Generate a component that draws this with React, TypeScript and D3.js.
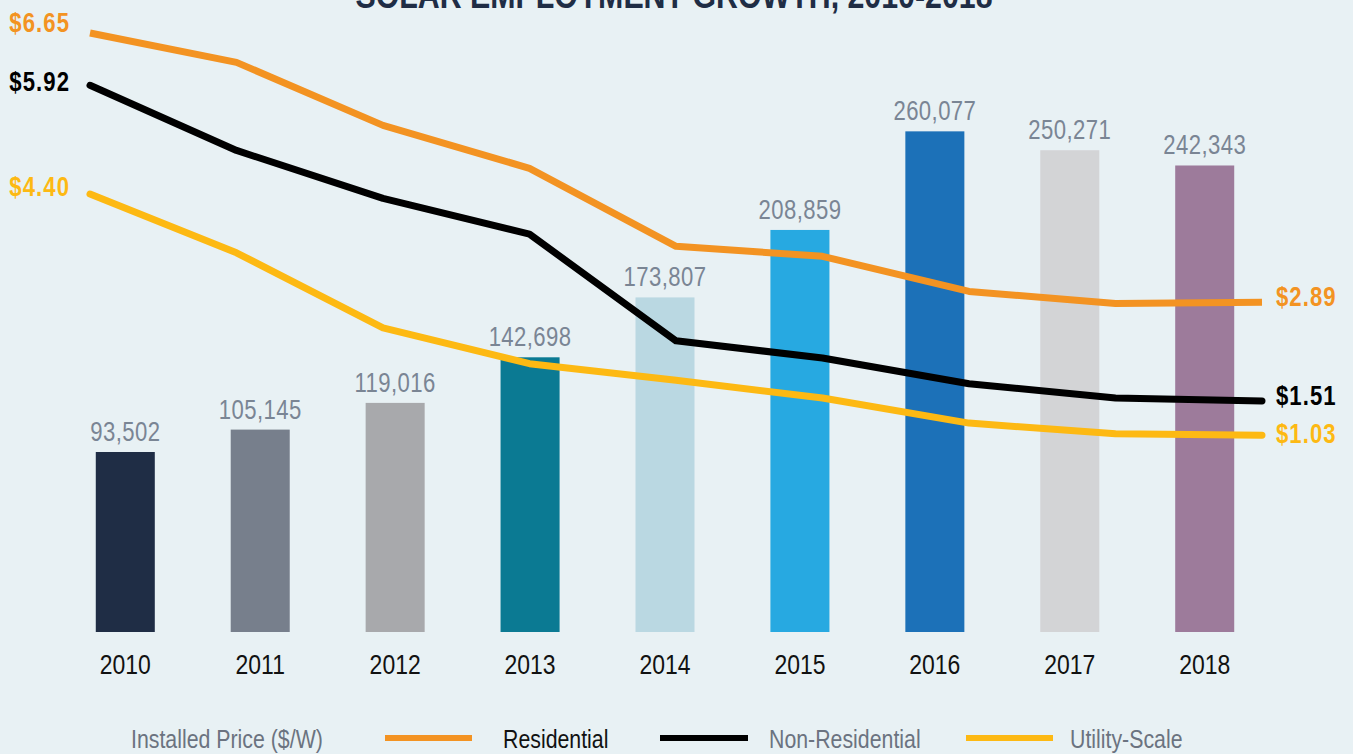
import { line, scaleBand, scaleLinear, scalePoint } from 'd3'
import type { ReactNode } from 'react'

const years = ['2010', '2011', '2012', '2013', '2014', '2015', '2016', '2017', '2018']
const jobs = [93502, 105145, 119016, 142698, 173807, 208859, 260077, 250271, 242343]
const barColors = ['#1f2d45', '#777f8c', '#a8a9ac', '#0b7a93', '#bad8e2', '#27a9e1', '#1c71b8', '#d3d4d6', '#9d7b9b']

const residential = [6.65, 6.24, 5.36, 4.76, 3.67, 3.53, 3.04, 2.87, 2.89]
const nonResidential = [5.92, 5.01, 4.34, 3.84, 2.35, 2.11, 1.75, 1.55, 1.51]
const utilityScale = [4.4, 3.58, 2.53, 2.03, 1.8, 1.55, 1.2, 1.05, 1.03]

const seriesNames = ['Residential', 'Non-Residential', 'Utility-Scale']
const legendTitle = 'Installed Price ($/W)'
const title = 'SOLAR EMPLOYMENT GROWTH, 2010-2018'

const width = 1353
const height = 754
const font = '"Liberation Sans", Arial, sans-serif'
// no narrow face installed, so squeeze Liberation Sans to Arial Narrow proportions
const narrow = 0.82

const series = [
  { name: seriesNames[0], values: residential, color: '#f39322', cap: 'butt', startDy: -1, endDy: 4, legendText: '#111' },
  { name: seriesNames[1], values: nonResidential, color: '#000000', cap: 'round', startDy: 6, endDy: 4, legendText: '#6b7380' },
  { name: seriesNames[2], values: utilityScale, color: '#fdb913', cap: 'round', startDy: 2, endDy: 8, legendText: '#6b7380' },
]

const legendLayout = [
  { swatch: [385, 472], text: 503 },
  { swatch: [660, 748], text: 769 },
  { swatch: [966, 1053], text: 1070 },
]

const xBar = scaleBand<string>().domain(years).range([58, 1272]).paddingInner(0.5626).paddingOuter(0.28)
const yJobs = scaleLinear().domain([0, 300000]).range([632, 54.5])
const xLine = scalePoint<string>().domain(years).range([90, 1262])
const yPrice = scaleLinear().domain([0, 7]).range([509, 8])

const fmt = new Intl.NumberFormat('en-US')

interface TxtProps {
  x: number
  y: number
  size: number
  fill: string
  anchor?: 'start' | 'middle' | 'end'
  weight?: number
  spacing?: number
  children: ReactNode
}

const Txt = ({ x, y, size, fill, anchor = 'start', weight = 400, spacing = 0, children }: TxtProps) => (
  <g transform={`translate(${x}, ${y}) scale(${narrow}, 1)`}>
    <text textAnchor={anchor} fontSize={size} fontWeight={weight} fill={fill} letterSpacing={spacing}>
      {children}
    </text>
  </g>
)

const App = () => {
  const pricePath = line<number>()
    .x((_, i) => xLine(years[i]) ?? 0)
    .y((d) => yPrice(d))

  const last = years.length - 1

  return (
    <div>
      <style>{`body{margin:0}`}</style>
      <svg width={width} height={height} viewBox={`0 0 ${width} ${height}`} style={{ display: 'block', fontFamily: font }}>
        <rect width={width} height={height} fill="#e8f1f4" />

        <Txt x={674} y={8} anchor="middle" size={37} weight={700} fill="#1f2d45">
          {title}
        </Txt>

        {years.map((year, i) => {
          const cx = (xBar(year) ?? 0) + xBar.bandwidth() / 2
          return (
            <g key={year}>
              <rect
                x={xBar(year)}
                y={yJobs(jobs[i])}
                width={xBar.bandwidth()}
                height={yJobs(0) - yJobs(jobs[i])}
                fill={barColors[i]}
              />
              <Txt x={cx} y={yJobs(jobs[i]) - 11} anchor="middle" size={27} fill="#7a8594" spacing={0.5}>
                {fmt.format(jobs[i])}
              </Txt>
              <Txt x={cx} y={674} anchor="middle" size={28} fill="#111111">
                {year}
              </Txt>
            </g>
          )
        })}

        {series.map((s) => (
          <g key={s.name}>
            <path
              d={pricePath(s.values) ?? ''}
              fill="none"
              stroke={s.color}
              strokeWidth={7}
              strokeLinecap={s.cap as 'butt' | 'round'}
              strokeLinejoin="round"
            />
            <Txt
              x={(xLine(years[0]) ?? 0) - 20}
              y={yPrice(s.values[0]) + s.startDy}
              anchor="end"
              size={27}
              weight={600}
              spacing={1.3}
              fill={s.color}
            >
              {`$${s.values[0].toFixed(2)}`}
            </Txt>
            <Txt
              x={(xLine(years[last]) ?? 0) + 14}
              y={yPrice(s.values[last]) + s.endDy}
              size={27}
              weight={600}
              spacing={1.3}
              fill={s.color}
            >
              {`$${s.values[last].toFixed(2)}`}
            </Txt>
          </g>
        ))}

        <g>
          <Txt x={131} y={748} size={26} fill="#6b7380">
            {legendTitle}
          </Txt>
          {series.map((s, i) => (
            <g key={s.name}>
              <line
                x1={legendLayout[i].swatch[0]}
                x2={legendLayout[i].swatch[1]}
                y1={738}
                y2={738}
                stroke={s.color}
                strokeWidth={6}
              />
              <Txt x={legendLayout[i].text} y={748} size={26} fill={s.legendText}>
                {s.name}
              </Txt>
            </g>
          ))}
        </g>
      </svg>
    </div>
  )
}

export default App
